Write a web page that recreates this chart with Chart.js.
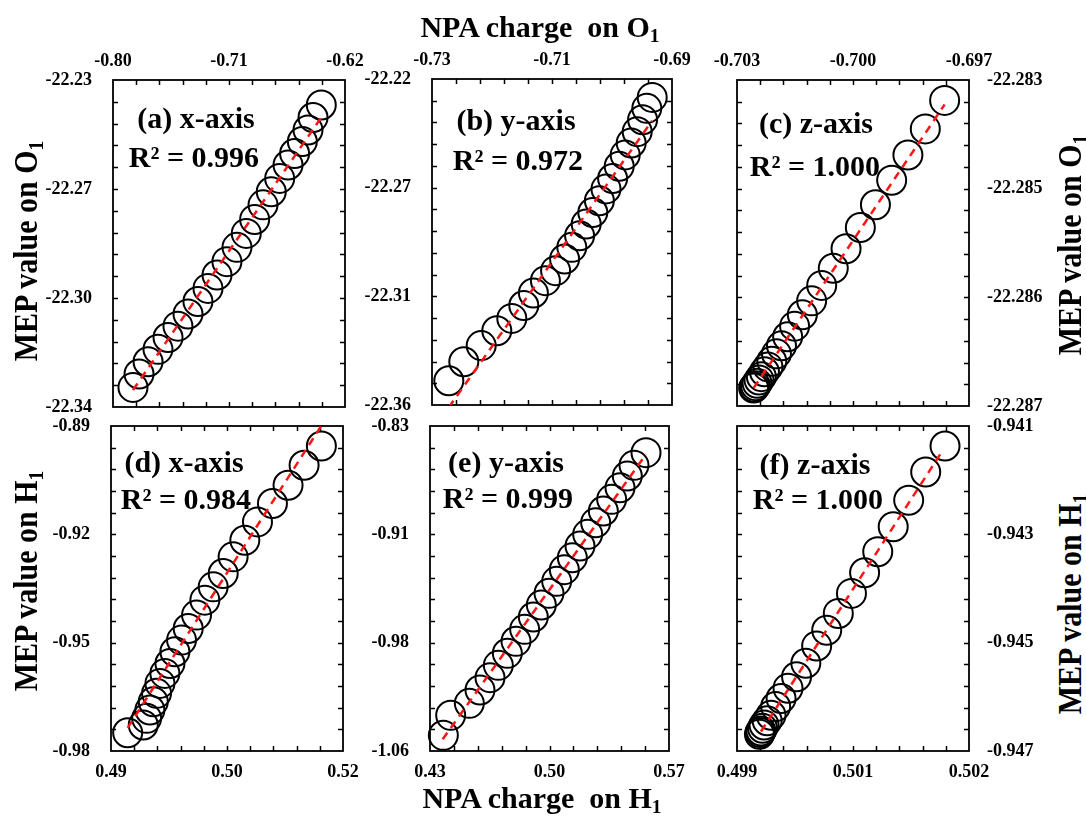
<!DOCTYPE html>
<html>
<head>
<meta charset="utf-8">
<title>MEP value vs NPA charge</title>
<script src="https://cdn.jsdelivr.net/npm/chart.js@4.4.1/dist/chart.umd.min.js"></script>
<style>
  html, body { margin: 0; padding: 0; background: #fff; }
  #page {
    position: relative; width: 1086px; height: 819px; overflow: hidden; background: #fff;
    font-family: "Liberation Serif", "Times New Roman", serif; font-weight: bold; color: #000;
  }
  #page canvas { position: absolute; }
  .txt { position: absolute; white-space: nowrap; line-height: 1; transform: translate(-50%, -50%); }
  .axis-title { font-size: 30px; }
  .side { transform: translate(-50%, -50%) rotate(-90deg) scale(1, 1.12); }
  .tag { font-size: 30px; }
  sub { font-size: 65%; vertical-align: -0.28em; line-height: 0; }
</style>
</head>
<body>
<div id="page">
  <div class="txt axis-title" style="left:540px; top:27px">NPA charge&nbsp; on O<sub>1</sub></div>
  <div class="txt axis-title" style="left:542px; top:798px">NPA charge&nbsp; on H<sub>1</sub></div>
  <div class="txt axis-title side" style="left:26px; top:251px">MEP value on O<sub>1</sub></div>
  <div class="txt axis-title side" style="left:26px; top:581px">MEP value on H<sub>1</sub></div>
  <div class="txt axis-title side" style="left:1070px; top:245px">MEP value on O<sub>1</sub></div>
  <div class="txt axis-title side" style="left:1070px; top:604px">MEP value on H<sub>1</sub></div>
</div>
<script>
// (a) O1, x-axis field
const aCharge = [-0.7845, -0.7798, -0.7728, -0.7651, -0.7573, -0.7496, -0.7418, -0.7341, -0.7263, -0.7193, -0.7116, -0.7038,
                 -0.6966, -0.6901, -0.6836, -0.6772, -0.6707, -0.6642, -0.6591, -0.6531, -0.6487, -0.6448, -0.6384];
const aMep = [-22.3334, -22.3289, -22.3248, -22.3206, -22.3166, -22.3128, -22.3087, -22.3045, -22.3001, -22.2956, -22.2911, -22.2863,
              -22.2816, -22.2769, -22.2720, -22.2676, -22.2631, -22.2586, -22.2547, -22.2507, -22.2468, -22.2426, -22.2384];
const aFitX = [-0.7845, -0.6384];
const aFitY = [-22.3343, -22.2426];

// (b) O1, y-axis field
const bCharge = [-0.7272, -0.7247, -0.7218, -0.7192, -0.7167, -0.7147, -0.7131, -0.7111, -0.7094, -0.7079, -0.7067, -0.7054,
                 -0.7043, -0.7032, -0.7021, -0.7010, -0.6999, -0.6988, -0.6978, -0.6968, -0.6958, -0.6949, -0.6942, -0.6933];
const bMep = [-22.3496, -22.3414, -22.3345, -22.3281, -22.3228, -22.3173, -22.3119, -22.3066, -22.3023, -22.2973, -22.2923, -22.2873,
              -22.2823, -22.2773, -22.2723, -22.2672, -22.2627, -22.2575, -22.2526, -22.2475, -22.2426, -22.2375, -22.2326, -22.2279];
const bFitX = [-0.7272, -0.6933];
const bFitY = [-22.3610, -22.2379];

// (c) O1, z-axis field
const cCharge = [-0.70257, -0.70255, -0.70252, -0.70248, -0.70243, -0.70237, -0.70229, -0.70220, -0.70210, -0.70198, -0.70185, -0.70169,
                 -0.70151, -0.70131, -0.70107, -0.70081, -0.70051, -0.70018, -0.69981, -0.69942, -0.69900, -0.69858, -0.69813, -0.69763];
const cMep = [-22.28678, -22.28677, -22.28675, -22.28672, -22.28668, -22.28664, -22.28658, -22.28652, -22.28645, -22.28636, -22.28626, -22.28615,
              -22.28602, -22.28588, -22.28571, -22.28552, -22.28531, -22.28507, -22.28481, -22.28453, -22.28423, -22.28392, -22.28360, -22.28325];
const cFitX = [-0.70257, -0.69763];
const cFitY = [-22.28678, -22.28330];

// (d) H1, x-axis field
const dCharge = [0.49508, 0.49656, 0.49688, 0.49719, 0.49751, 0.49782, 0.49814, 0.49861, 0.49909, 0.49956, 0.50019, 0.50082,
                 0.50161, 0.50240, 0.50319, 0.50414, 0.50508, 0.50619, 0.50739, 0.50881, 0.51029, 0.51181, 0.51345];
const dMep = [-0.97493, -0.97281, -0.97096, -0.96866, -0.96635, -0.96404, -0.96128, -0.95851, -0.95575, -0.95252, -0.94929, -0.94606,
              -0.94237, -0.93823, -0.93454, -0.93085, -0.92624, -0.92163, -0.91656, -0.91148, -0.90641, -0.90088, -0.89553];
const dFitX = [0.49508, 0.51345];
const dFitY = [-0.9736, -0.8899];

// (e) H1, y-axis field
const eCharge = [0.43781, 0.44211, 0.45304, 0.45929, 0.46515, 0.47003, 0.47530, 0.48038, 0.48545, 0.49053, 0.49522, 0.49971,
                 0.50420, 0.50869, 0.51338, 0.51787, 0.52236, 0.52704, 0.53154, 0.53641, 0.54130, 0.54559, 0.54950, 0.55653];
const eMep = [-1.04891, -1.03476, -1.02627, -1.01683, -1.00810, -0.99938, -0.99088, -0.98239, -0.97390, -0.96517, -0.95668, -0.94842,
              -0.93993, -0.93167, -0.92318, -0.91492, -0.90667, -0.89841, -0.89015, -0.88190, -0.87364, -0.86539, -0.85784, -0.84887];
const eFitX = [0.43742, 0.55653];
const eFitY = [-1.05174, -0.85005];

// (f) H1, z-axis field
const fCharge = [0.49929, 0.49930, 0.49931, 0.49933, 0.49935, 0.49939, 0.49944, 0.49950, 0.49957, 0.49966, 0.49977,
                 0.49989, 0.50003, 0.50016, 0.50031, 0.50048, 0.50065, 0.50082, 0.50102, 0.50122, 0.50144, 0.50169];
const fMep = [-0.94669, -0.94666, -0.94663, -0.94658, -0.94652, -0.94644, -0.94634, -0.94618, -0.94603, -0.94584, -0.94563,
              -0.94538, -0.94506, -0.94477, -0.94446, -0.94409, -0.94371, -0.94332, -0.94286, -0.94237, -0.94185, -0.94137];
const fFitX = [0.49931, 0.50166];
const fFitY = [-0.94664, -0.94145];

// axis ranges and tick labels (bottom-to-top / left-to-right)
const aXRange = [-0.80, -0.62],   aYRange = [-22.34, -22.23];
const bXRange = [-0.73, -0.69],   bYRange = [-22.36, -22.22];
const cXRange = [-0.703, -0.697], cYRange = [-22.287, -22.283];
const dXRange = [0.4935, 0.5155], dYRange = [-0.98, -0.89];
const eXRange = [0.43, 0.57],     eYRange = [-1.06, -0.83];
const fXRange = [0.499, 0.502],   fYRange = [-0.947, -0.941];

const aXTicks = ['-0.80', '-0.71', '-0.62'];   const aYTicks = ['-22.34', '-22.30', '-22.27', '-22.23'];
const bXTicks = ['-0.73', '-0.71', '-0.69'];   const bYTicks = ['-22.36', '-22.31', '-22.27', '-22.22'];
const cXTicks = ['-0.703', '-0.700', '-0.697']; const cYTicks = ['-22.287', '-22.286', '-22.285', '-22.283'];
const dXTicks = ['0.49', '0.50', '0.52'];      const dYTicks = ['-0.98', '-0.95', '-0.92', '-0.89'];
const eXTicks = ['0.43', '0.50', '0.57'];      const eYTicks = ['-1.06', '-0.98', '-0.91', '-0.83'];
const fXTicks = ['0.499', '0.501', '0.502'];   const fYTicks = ['-0.947', '-0.945', '-0.943', '-0.941'];

const panelTags = ['(a) x-axis', '(b) y-axis', '(c) z-axis', '(d) x-axis', '(e) y-axis', '(f) z-axis'];
const rSquared = ['0.996', '0.972', '1.000', '0.984', '0.999', '1.000'];

const PAD_X = 80, PAD_Y = 45;
const tickFont = { family: 'Liberation Serif', size: 18, weight: 'bold' };

const panels = [
  { box: [113, 80, 232, 327], ySide: 'left',  xSide: 'top',    x: aCharge, y: aMep, fitX: aFitX, fitY: aFitY, xr: aXRange, yr: aYRange, xt: aXTicks, yt: aYTicks, tagAt: [196, 118], rAt: [194, 157] },
  { box: [432, 79, 240, 326], ySide: 'left',  xSide: 'top',    x: bCharge, y: bMep, fitX: bFitX, fitY: bFitY, xr: bXRange, yr: bYRange, xt: bXTicks, yt: bYTicks, tagAt: [516, 120], rAt: [518, 160] },
  { box: [737, 80, 232, 326], ySide: 'right', xSide: 'top',    x: cCharge, y: cMep, fitX: cFitX, fitY: cFitY, xr: cXRange, yr: cYRange, xt: cXTicks, yt: cYTicks, tagAt: [816, 123], rAt: [815, 166] },
  { box: [111, 426, 232, 325], ySide: 'left', xSide: 'bottom', x: dCharge, y: dMep, fitX: dFitX, fitY: dFitY, xr: dXRange, yr: dYRange, xt: dXTicks, yt: dYTicks, tagAt: [184, 462], rAt: [186, 499] },
  { box: [430, 426, 239, 325], ySide: 'left', xSide: 'bottom', x: eCharge, y: eMep, fitX: eFitX, fitY: eFitY, xr: eXRange, yr: eYRange, xt: eXTicks, yt: eYTicks, tagAt: [506, 462], rAt: [508, 498] },
  { box: [737, 426, 232, 325], ySide: 'right', xSide: 'bottom', x: fCharge, y: fMep, fitX: fFitX, fitY: fFitY, xr: fXRange, yr: fYRange, xt: fXTicks, yt: fYTicks, tagAt: [815, 464], rAt: [818, 499] }
];

// box outline plus small inward ticks on all four sides (5 minor steps per major)
const framePlugin = {
  id: 'frame',
  beforeDatasetsDraw(chart) {
    const { ctx, chartArea: area, scales: { x, y } } = chart;
    const nx = (x.ticks.length - 1) * 5, ny = (y.ticks.length - 1) * 5, len = 5;
    ctx.save();
    ctx.strokeStyle = '#000';
    ctx.lineWidth = 1.8;
    ctx.strokeRect(area.left, area.top, area.right - area.left, area.bottom - area.top);
    ctx.lineWidth = 1.5;
    ctx.beginPath();
    for (let i = 1; i < nx; i++) {
      const px = Math.round(x.getPixelForValue(x.min + (x.max - x.min) * i / nx)) + 0.5;
      ctx.moveTo(px, area.top); ctx.lineTo(px, area.top + len);
      ctx.moveTo(px, area.bottom); ctx.lineTo(px, area.bottom - len);
    }
    for (let i = 1; i < ny; i++) {
      const py = Math.round(y.getPixelForValue(y.min + (y.max - y.min) * i / ny)) + 0.5;
      ctx.moveTo(area.left, py); ctx.lineTo(area.left + len, py);
      ctx.moveTo(area.right, py); ctx.lineTo(area.right - len, py);
    }
    ctx.stroke();
    ctx.restore();
  }
};

const evenTicks = (range, labels) => scale => {
  scale.ticks = labels.map((_, i) => ({ value: range[0] + (range[1] - range[0]) * i / (labels.length - 1) }));
};

const page = document.getElementById('page');

panels.forEach((p, k) => {
  const [left, top, w, h] = p.box;
  const canvas = document.createElement('canvas');
  canvas.width = w + 2 * PAD_X;
  canvas.height = h + 2 * PAD_Y;
  canvas.style.left = (left - PAD_X) + 'px';
  canvas.style.top = (top - PAD_Y) + 'px';
  page.insertBefore(canvas, page.firstChild);

  const points = p.x.map((v, i) => ({ x: v, y: p.y[i] }));
  const fit = p.fitX.map((v, i) => ({ x: v, y: p.fitY[i] }));
  const yLeft = p.ySide === 'left', xTop = p.xSide === 'top';

  new Chart(canvas, {
    type: 'scatter',
    data: {
      datasets: [
        { type: 'line', data: fit, borderColor: '#ff1414', borderWidth: 2.5, borderDash: [8, 6],
          pointRadius: 0, pointHoverRadius: 0, fill: false },
        { data: points, pointRadius: 14.5, pointHoverRadius: 14.5, borderColor: '#000', pointBorderColor: '#000',
          pointBorderWidth: 2, pointBackgroundColor: 'rgba(0,0,0,0)', backgroundColor: 'rgba(0,0,0,0)', clip: false }
      ]
    },
    options: {
      responsive: false,
      animation: false,
      events: [],
      layout: {
        autoPadding: false,
        padding: { left: yLeft ? 0 : PAD_X, right: yLeft ? PAD_X : 0, top: xTop ? 0 : PAD_Y, bottom: xTop ? PAD_Y : 0 }
      },
      plugins: { legend: { display: false }, tooltip: { enabled: false } },
      scales: {
        x: {
          type: 'linear', position: p.xSide, min: p.xr[0], max: p.xr[1],
          grid: { display: false, drawTicks: false }, border: { display: false },
          afterFit: s => { s.height = PAD_Y; },
          afterBuildTicks: evenTicks(p.xr, p.xt),
          ticks: { autoSkip: false, maxRotation: 0, padding: xTop ? 8 : 11, color: '#000', font: tickFont,
                   callback: (v, i) => p.xt[i] }
        },
        y: {
          type: 'linear', position: p.ySide, min: p.yr[0], max: p.yr[1],
          grid: { display: false, drawTicks: false }, border: { display: false },
          afterFit: s => { s.width = PAD_X; },
          afterBuildTicks: evenTicks(p.yr, p.yt),
          ticks: { autoSkip: false, padding: yLeft ? 21 : 18, color: '#000', font: tickFont,
                   callback: (v, i) => p.yt[i] }
        }
      }
    },
    plugins: [framePlugin]
  });

  const tag = document.createElement('div');
  tag.className = 'txt tag';
  tag.style.left = p.tagAt[0] + 'px';
  tag.style.top = p.tagAt[1] + 'px';
  tag.textContent = panelTags[k];
  page.appendChild(tag);

  const r2 = document.createElement('div');
  r2.className = 'txt tag';
  r2.style.left = p.rAt[0] + 'px';
  r2.style.top = p.rAt[1] + 'px';
  r2.textContent = 'R\u00b2 = ' + rSquared[k];
  page.appendChild(r2);
});
</script>
</body>
</html>
